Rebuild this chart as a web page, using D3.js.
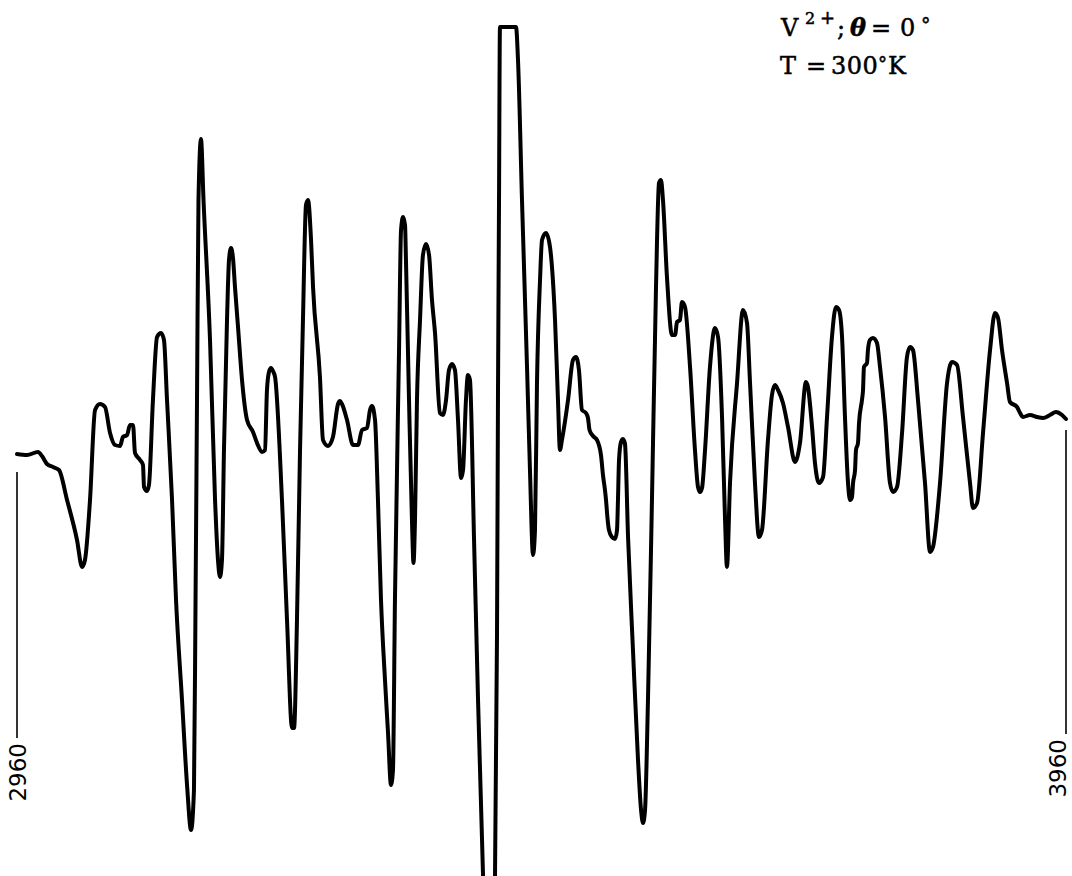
<!DOCTYPE html>
<html>
<head>
<meta charset="utf-8">
<script src="https://cdn.jsdelivr.net/npm/d3@7"></script>
<style>
  body { margin: 0; background: #fff; }
</style>
</head>
<body>
<script>
// EPR derivative trace, field in gauss, signal in arbitrary units
var trace = [
    [2960.0, -4], [2969.5, -5], [2980.0, -2], [2983.8, -6], [2988.6, -14], [2994.3, -17],
    [3000.0, -20], [3007.7, -50], [3017.2, -90], [3022.0, -117], [3024.8, -110], [3029.6, -50],
    [3034.4, 40], [3039.1, 46], [3043.9, 43], [3048.7, 17], [3053.4, 5], [3058.2, 4],
    [3061.0, 13], [3064.9, 15], [3067.7, 25], [3070.6, 25], [3072.5, -3], [3077.3, -10],
    [3080.1, -15], [3081.1, -37], [3083.9, -41], [3085.8, -35], [3089.6, 50], [3093.5, 113],
    [3097.3, 117], [3100.1, 110], [3103.0, 50], [3107.8, -50], [3111.6, -150], [3117.3, -250],
    [3122.1, -335], [3125.9, -380], [3128.7, -340], [3130.2, -150], [3131.6, 50], [3133.0, 250],
    [3135.4, 311], [3137.8, 250], [3144.0, 110], [3148.8, -50], [3151.6, -110], [3153.5, -127],
    [3155.4, -110], [3157.3, 0], [3160.2, 130], [3162.1, 190], [3164.0, 202], [3165.9, 192],
    [3167.8, 163], [3170.7, 123], [3174.5, 70], [3179.3, 30], [3185.0, 18], [3188.8, 7],
    [3193.6, -2], [3196.4, 0], [3198.3, 60], [3200.2, 78], [3202.1, 82], [3204.0, 79],
    [3206.0, 73], [3212.6, -50], [3217.4, -170], [3222.2, -278], [3224.1, -278], [3226.9, -170],
    [3229.8, 0], [3232.6, 130], [3235.5, 245], [3237.4, 250], [3240.3, 210], [3242.2, 163],
    [3248.8, 73], [3251.7, 10], [3256.5, 4], [3261.2, 13], [3266.0, 46], [3267.9, 49],
    [3269.8, 46], [3274.6, 30], [3280.3, 5], [3285.1, 5], [3288.9, 20], [3293.7, 22],
    [3296.5, 40], [3298.4, 44], [3301.3, 30], [3304.1, -50], [3307.0, -150], [3310.8, -230],
    [3313.7, -283], [3316.5, -335], [3318.4, -320], [3320.3, -150], [3324.2, 100], [3326.1, 220],
    [3328.0, 233], [3329.9, 225], [3330.8, 190], [3333.7, 50], [3336.5, -70], [3338.0, -113],
    [3339.4, -70], [3341.3, 50], [3344.2, 130], [3347.0, 195], [3349.9, 206], [3352.8, 195],
    [3355.6, 150], [3358.5, 117], [3363.2, 37], [3366.1, 35], [3369.0, 50], [3371.8, 80],
    [3374.7, 86], [3377.5, 80], [3380.4, 30], [3383.3, -28], [3385.2, -20], [3388.0, 50],
    [3389.9, 75], [3391.8, 70], [3395.7, -90], [3399.5, -250], [3404.2, -423], [3410.9, -600],
    [3415.7, -423], [3417.6, -183], [3418.5, 50], [3419.5, 250], [3420.4, 423], [3435.7, 423],
    [3437.6, 390], [3441.4, 250], [3446.2, 83], [3449.0, -20], [3451.9, -105], [3453.8, -80],
    [3455.7, 67], [3458.6, 170], [3460.5, 210], [3464.3, 217], [3468.1, 203], [3470.0, 183],
    [3472.9, 130], [3475.7, 50], [3477.6, 0], [3479.5, 10], [3485.3, 50], [3490.0, 90],
    [3492.9, 93], [3495.7, 80], [3498.6, 40], [3502.4, 37], [3504.3, 32], [3505.8, 20],
    [3509.1, 14], [3512.9, 10], [3516.7, -5], [3518.6, -25], [3520.5, -40], [3521.5, -50],
    [3522.9, -68], [3524.3, -80], [3527.2, -87], [3530.1, -89], [3532.0, -80], [3532.9, -50],
    [3533.9, -10], [3535.8, 8], [3537.7, 11], [3539.6, 6], [3542.5, -87], [3547.2, -200],
    [3552.0, -310], [3554.9, -360], [3556.8, -373], [3558.7, -360], [3561.5, -250], [3565.3, -50],
    [3569.1, 160], [3572.0, 267], [3573.9, 270], [3575.8, 250], [3579.6, 173], [3584.4, 115],
    [3587.3, 115], [3589.2, 128], [3592.0, 130], [3593.9, 148], [3596.8, 143], [3601.6, 83],
    [3606.3, 0], [3609.2, -37], [3611.1, -42], [3613.0, -38], [3615.9, 0], [3620.6, 83],
    [3625.4, 122], [3628.3, 113], [3632.1, 33], [3634.9, -67], [3636.8, -117], [3639.7, -33],
    [3646.4, 67], [3652.1, 140], [3655.9, 127], [3658.8, 67], [3663.5, -33], [3667.3, -87],
    [3670.2, -80], [3675.9, 10], [3679.7, 55], [3682.6, 65], [3685.5, 60], [3690.2, 47],
    [3695.0, 23], [3701.7, -12], [3706.4, 7], [3712.1, 68], [3714.0, 63], [3717.9, 23],
    [3720.7, -13], [3724.5, -33], [3728.4, -27], [3732.2, 33], [3736.9, 113], [3740.7, 143],
    [3743.6, 140], [3746.5, 113], [3749.3, 33], [3752.2, -33], [3754.1, -50], [3756.0, -47],
    [3757.0, -33], [3758.9, -20], [3759.8, 0], [3761.7, 7], [3762.7, 27], [3765.5, 50],
    [3766.5, 60], [3767.4, 83], [3770.3, 87], [3771.2, 100], [3773.1, 110], [3776.0, 112],
    [3779.8, 107], [3782.7, 83], [3787.5, 33], [3792.2, -33], [3795.1, -42], [3798.9, -37],
    [3803.7, 17], [3808.4, 93], [3811.3, 103], [3814.1, 100], [3818.9, 50], [3825.6, -33],
    [3830.4, -102], [3833.2, -97], [3839.9, -33], [3846.6, 67], [3851.3, 88], [3856.1, 85],
    [3861.8, 33], [3868.5, -33], [3871.3, -58], [3875.2, -53], [3880.9, 17], [3887.6, 100],
    [3892.3, 137], [3895.2, 132], [3899.0, 100], [3903.8, 67], [3906.6, 48], [3913.3, 43],
    [3916.2, 37], [3919.0, 33], [3925.7, 35], [3932.4, 33], [3938.1, 32], [3944.7, 35],
    [3950.5, 38], [3956.2, 35], [3960.0, 31]
];

var fieldLimits = [2960, 3960];
var fieldLabels = ["2960", "3960"];

var svg = d3.select("body")
    .append("svg")
    .attr("width", 1072)
    .attr("height", 876)
    .style("display", "block")
    .style("background", "#fff");

var x = d3.scaleLinear()
    .domain(fieldLimits)
    .range([17, 1066]);

var y = d3.scaleLinear()
    .domain([-426, 450])
    .range([876, 0]);

var line = d3.line()
    .x(function(d) { return x(d[0]); })
    .y(function(d) { return y(d[1]); })
    .curve(d3.curveMonotoneX);

svg.append("path")
    .datum(trace)
    .attr("d", line)
    .attr("fill", "none")
    .attr("stroke", "#000")
    .attr("stroke-width", 4)
    .attr("stroke-linejoin", "round")
    .attr("stroke-linecap", "round");

// field end markers: vertical rule with rotated value below it
var markerTop = [-22, 20];
var markerBottom = [-288, -284];
var labelShift = [9, 0];

var marks = svg.selectAll(".mark")
    .data(fieldLimits)
    .enter()
    .append("g")
    .attr("class", "mark");

marks.append("line")
    .attr("x1", function(d) { return x(d); })
    .attr("x2", function(d) { return x(d); })
    .attr("y1", function(d, i) { return y(markerTop[i]); })
    .attr("y2", function(d, i) { return y(markerBottom[i]); })
    .attr("stroke", "#000")
    .attr("stroke-width", 1.6);

marks.append("text")
    .attr("transform", function(d, i) {
        return "translate(" + (x(d) + labelShift[i]) + "," + (y(markerBottom[i]) + 5) + ") rotate(-90)";
    })
    .attr("text-anchor", "end")
    .style("font-family", "DejaVu Sans, sans-serif")
    .style("font-size", "23px")
    .text(function(d, i) { return fieldLabels[i]; });

// sample / condition caption
var cap = svg.append("g")
    .style("font-family", "DejaVu Serif, serif")
    .style("font-size", "24px")
    .attr("fill", "#000")
    .attr("stroke", "#000")
    .attr("stroke-width", 0.5);

var t1 = cap.append("text").attr("x", 781).attr("y", 36);
t1.append("tspan").text("V");
t1.append("tspan").attr("x", 805).attr("dy", -12).style("font-size", "16px").text("2");
t1.append("tspan").attr("x", 820).style("font-size", "18px").text("+");
t1.append("tspan").attr("x", 837).attr("dy", 12).text(";");
t1.append("tspan").attr("x", 850).style("font-style", "italic").style("font-weight", "bold").text("θ");
t1.append("tspan").attr("x", 871).text("=");
t1.append("tspan").attr("x", 900).text("0");
t1.append("tspan").attr("x", 921).attr("dy", -5).style("font-size", "19px").text("°");

var t2 = cap.append("text").attr("x", 780).attr("y", 74);
t2.append("tspan").text("T");
t2.append("tspan").attr("x", 806).text("=");
t2.append("tspan").attr("x", 831).style("letter-spacing", "0.5px").text("300");
t2.append("tspan").attr("x", 878).attr("dy", -4).style("font-size", "18px").text("°");
t2.append("tspan").attr("x", 888).attr("dy", 4).text("K");
</script>
</body>
</html>
